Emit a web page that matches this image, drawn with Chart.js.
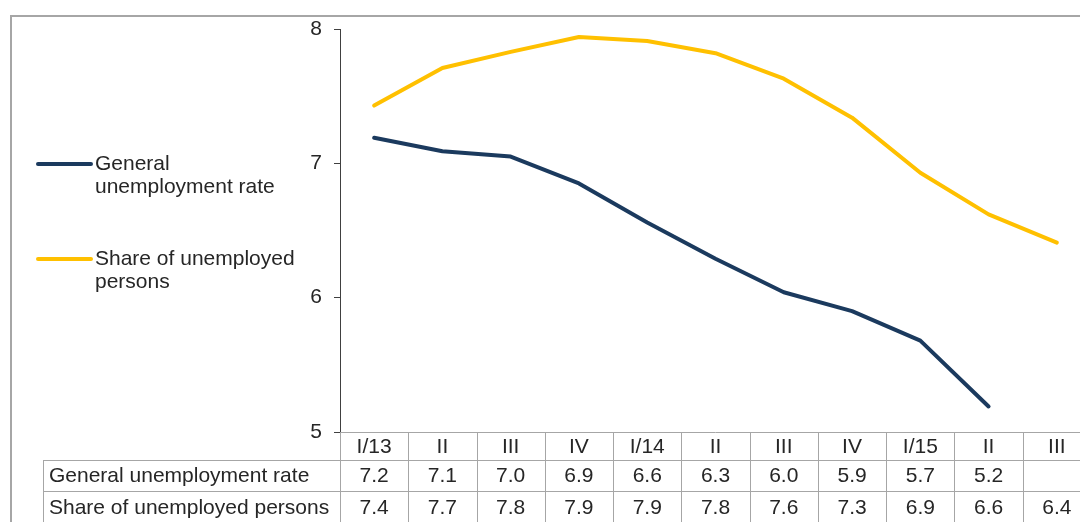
<!DOCTYPE html>
<html>
<head>
<meta charset="utf-8">
<script src="https://cdn.jsdelivr.net/npm/chart.js@4.4.1/dist/chart.umd.min.js"></script>
<style>
  html, body { margin: 0; padding: 0; background: #fff; overflow: hidden; }
  canvas { display: block; }
</style>
</head>
<body>
<canvas id="chart" width="1100" height="522"></canvas>
<script>
const quarters = ['I/13', 'II', 'III', 'IV', 'I/14', 'II', 'III', 'IV', 'I/15', 'II', 'III'];
// line values
const generalRate = [7.19, 7.09, 7.05, 6.85, 6.56, 6.29, 6.04, 5.90, 5.68, 5.19, null];
const unemployedShare = [7.43, 7.71, 7.83, 7.94, 7.91, 7.82, 7.63, 7.34, 6.93, 6.62, 6.41];
// rounded values printed in the data table
const generalTable = ['7.2', '7.1', '7.0', '6.9', '6.6', '6.3', '6.0', '5.9', '5.7', '5.2', ''];
const shareTable = ['7.4', '7.7', '7.8', '7.9', '7.9', '7.8', '7.6', '7.3', '6.9', '6.6', '6.4'];
const seriesNames = ['General unemployment rate', 'Share of unemployed persons'];
const legendLines = [['General', 'unemployment rate'], ['Share of unemployed', 'persons']];

const NAVY = '#1b3a5e';
const GOLD = '#ffc000';
const GRID = '#a6a6a6';
const TEXT = '#262626';
const FAMILY = '"Liberation Sans", Arial, sans-serif';
const FONT = '21px ' + FAMILY;

// outer frame, legend and data table below the plot
const extras = {
  id: 'extras',
  afterDraw(chart) {
    const c = chart.ctx;
    const area = chart.chartArea;
    const n = quarters.length;
    const w = (area.right - area.left) / n;
    const rowTop = area.bottom, row1 = rowTop + 28, row2 = row1 + 31, rowEnd = chart.height + 2;
    const tableLeft = 43;

    c.save();
    // frame
    c.strokeStyle = GRID;
    c.lineWidth = 2;
    c.strokeRect(11, 16, chart.width + 40, chart.height + 40);

    // table grid
    c.lineWidth = 1;
    c.beginPath();
    c.moveTo(area.left, rowTop + 0.5); c.lineTo(area.right, rowTop + 0.5);
    c.moveTo(tableLeft, row1 + 0.5); c.lineTo(area.right, row1 + 0.5);
    c.moveTo(tableLeft, row2 + 0.5); c.lineTo(area.right, row2 + 0.5);
    c.moveTo(tableLeft + 0.5, row1); c.lineTo(tableLeft + 0.5, rowEnd);
    for (let i = 0; i <= n; i++) {
      const x = Math.round(area.left + i * w) + 0.5;
      c.moveTo(x, rowTop); c.lineTo(x, rowEnd);
    }
    c.stroke();

    // table text
    c.font = FONT;
    c.fillStyle = TEXT;
    c.textBaseline = 'middle';
    c.textAlign = 'left';
    c.fillText(seriesNames[0], tableLeft + 6, (row1 + row2) / 2 + 1);
    c.fillText(seriesNames[1], tableLeft + 6, row2 + 17);
    c.textAlign = 'center';
    quarters.forEach((q, i) => {
      const x = chart.scales.x.getPixelForValue(i);
      c.fillText(q, x, (rowTop + row1) / 2 + 1);
      c.fillText(generalTable[i], x, (row1 + row2) / 2 + 1);
      c.fillText(shareTable[i], x, row2 + 17);
    });

    // legend
    const legendY = [164, 259];
    const colors = [NAVY, GOLD];
    c.lineCap = 'round';
    c.lineWidth = 4;
    legendY.forEach((y, k) => {
      c.strokeStyle = colors[k];
      c.beginPath();
      c.moveTo(38, y); c.lineTo(91, y);
      c.stroke();
      c.textAlign = 'left';
      c.fillStyle = TEXT;
      legendLines[k].forEach((t, j) => c.fillText(t, 95, y + j * 23));
    });
    c.restore();
  }
};

new Chart(document.getElementById('chart'), {
  type: 'line',
  data: {
    labels: quarters,
    datasets: [
      { label: seriesNames[0], data: generalRate, borderColor: NAVY, backgroundColor: NAVY },
      { label: seriesNames[1], data: unemployedShare, borderColor: GOLD, backgroundColor: GOLD }
    ]
  },
  options: {
    responsive: false,
    animation: false,
    devicePixelRatio: 1,
    layout: { padding: { left: 300, top: 29, right: 9, bottom: 90 } },
    elements: {
      line: { borderWidth: 4, tension: 0, borderCapStyle: 'round', borderJoinStyle: 'round' },
      point: { radius: 0, hoverRadius: 0 }
    },
    scales: {
      x: { display: false, offset: true },
      y: {
        min: 5,
        max: 8,
        afterFit: (s) => { s.width = 40; },
        ticks: { stepSize: 1, padding: 12, color: TEXT, font: { family: FAMILY, size: 21 } },
        grid: { drawOnChartArea: false, drawTicks: true, tickLength: 6, color: '#404040' },
        border: { display: true, color: '#404040', width: 1 }
      }
    },
    plugins: { legend: { display: false }, tooltip: { enabled: false } }
  },
  plugins: [extras]
});
</script>
</body>
</html>
